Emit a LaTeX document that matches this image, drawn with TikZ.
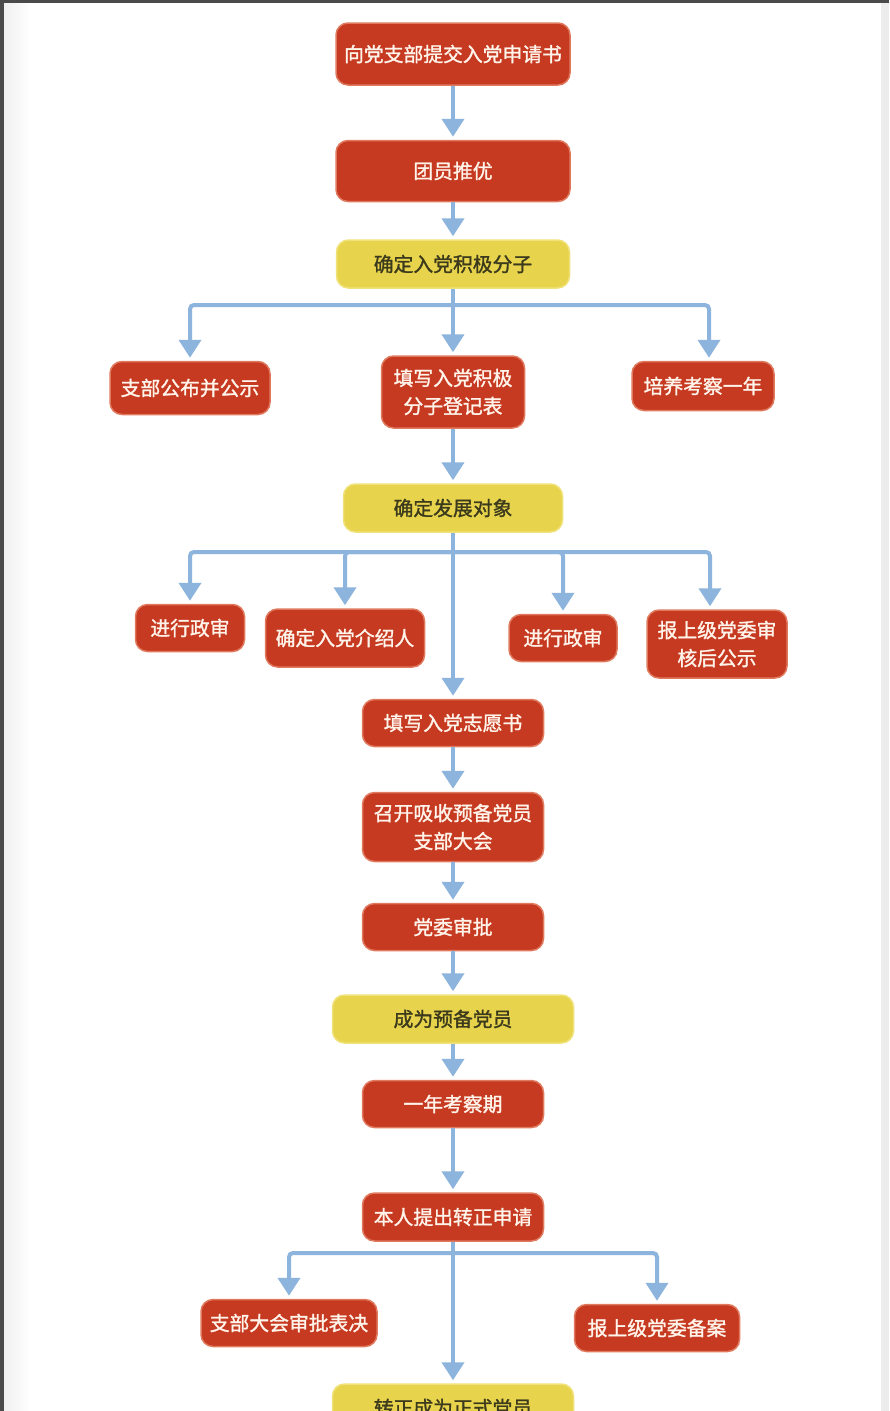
\documentclass[tikz,border=0pt]{standalone}
\usepackage{fontspec}
\newfontfamily\cjk[FakeBold=1.4]{Noto Sans CJK SC}
\usetikzlibrary{arrows.meta,calc}
\definecolor{boxred}{HTML}{C63A22}
\definecolor{boxredline}{HTML}{E07A5E}
\definecolor{boxtext}{HTML}{FFF4EA}
\definecolor{boxyel}{HTML}{E8D44C}
\definecolor{boxyelline}{HTML}{F0E27A}
\definecolor{yeltext}{HTML}{3C3A1C}
\definecolor{arrblue}{HTML}{8DB4DC}
\definecolor{darkframe}{HTML}{4A4A4A}
\begin{document}
\begin{tikzpicture}[x=1pt,y=-1pt,
  box/.style={rounded corners=12pt, align=center, inner sep=0pt, line width=1.5pt,
    font=\cjk\fontsize{19.8}{28}\selectfont},
  redbox/.style={box, fill=boxred, draw=boxredline, text=boxtext},
  yelbox/.style={box, fill=boxyel, draw=boxyelline, text=yeltext},
  conn/.style={draw=arrblue, line width=4pt, rounded corners=4pt},
  arr/.style={conn, -{Triangle[width=22pt,length=18pt]}, shorten >=3pt}
]
% page and frame
\useasboundingbox (0,0) rectangle (889,1411);
\clip (0,0) rectangle (889,1411);
\fill[white] (0,0) rectangle (889,1411);
\shade[left color=gray!12, right color=white] (4,0) rectangle (30,1411);
\fill[gray!15] (881,0) rectangle (889,1411);
\fill[darkframe] (0,0) rectangle (889,3);
\fill[darkframe] (0,0) rectangle (4,1411);

% nodes
\node[redbox, minimum width=234pt, minimum height=62pt] (n1) at (453,54) {向党支部提交入党申请书};
\node[redbox, minimum width=234pt, minimum height=61pt] (n2) at (453,171) {团员推优};
\node[yelbox, minimum width=233pt, minimum height=48pt] (n3) at (453,264) {确定入党积极分子};
\node[redbox, minimum width=160pt, minimum height=53pt] (n4) at (190,388) {支部公布并公示};
\node[redbox, minimum width=143pt, minimum height=72pt] (n5) at (453,392) {填写入党积极\\分子登记表};
\node[redbox, minimum width=142pt, minimum height=49pt] (n6) at (703,386) {培养考察一年};
\node[yelbox, minimum width=219pt, minimum height=48pt] (n7) at (453,508) {确定发展对象};
\node[redbox, minimum width=109pt, minimum height=47pt] (n8) at (190,628) {进行政审};
\node[redbox, minimum width=159pt, minimum height=58pt] (n9) at (345,638) {确定入党介绍人};
\node[redbox, minimum width=108pt, minimum height=47pt] (n10) at (563,638) {进行政审};
\node[redbox, minimum width=140pt, minimum height=68pt] (n11) at (717,644) {报上级党委审\\核后公示};
\node[redbox, minimum width=181pt, minimum height=47pt] (n12) at (453,723) {填写入党志愿书};
\node[redbox, minimum width=181pt, minimum height=69pt] (n13) at (453,827) {召开吸收预备党员\\支部大会};
\node[redbox, minimum width=181pt, minimum height=47pt] (n14) at (453,927) {党委审批};
\node[yelbox, minimum width=241pt, minimum height=48pt] (n15) at (453,1019) {成为预备党员};
\node[redbox, minimum width=181pt, minimum height=47pt] (n16) at (453,1104) {一年考察期};
\node[redbox, minimum width=181pt, minimum height=48pt] (n17) at (453,1217) {本人提出转正申请};
\node[redbox, minimum width=176pt, minimum height=47pt] (n18) at (289,1323) {支部大会审批表决};
\node[redbox, minimum width=165pt, minimum height=47pt] (n19) at (657,1328) {报上级党委备案};
\node[yelbox, minimum width=241pt, minimum height=48pt] (n20) at (453,1408) {转正成为正式党员};

% junctions
\coordinate (b1) at (453,305);
\coordinate (b2) at (453,552);
\coordinate (b3) at (453,1253);

% connectors
\draw[arr] (n1.south) -- (n2.north);
\draw[arr] (n2.south) -- (n3.north);
\draw[conn] (n3.south) -- (b1);
\draw[arr] (b1) -| (n4.north);
\draw[arr] (b1) -- (n5.north);
\draw[arr] (b1) -| ($(n6.north)+(6,0)$);
\draw[arr] (n5.south) -- (n7.north);
\draw[conn] (n7.south) -- (b2);
\draw[arr] (b2) -| (n8.north);
\draw[arr] (b2) -| (n9.north);
\draw[arr] (b2) -| (n10.north);
\draw[arr] (b2) -| ($(n11.north)+(-7,0)$);
\draw[arr] (n7.south) -- (n12.north);
\draw[arr] (n12.south) -- (n13.north);
\draw[arr] (n13.south) -- (n14.north);
\draw[arr] (n14.south) -- (n15.north);
\draw[arr] (n15.south) -- (n16.north);
\draw[arr] (n16.south) -- (n17.north);
\draw[conn] (n17.south) -- (b3);
\draw[arr] (b3) -| (n18.north);
\draw[arr] (b3) -| (n19.north);
\draw[arr] (n17.south) -- (n20.north);
\end{tikzpicture}
\end{document}
